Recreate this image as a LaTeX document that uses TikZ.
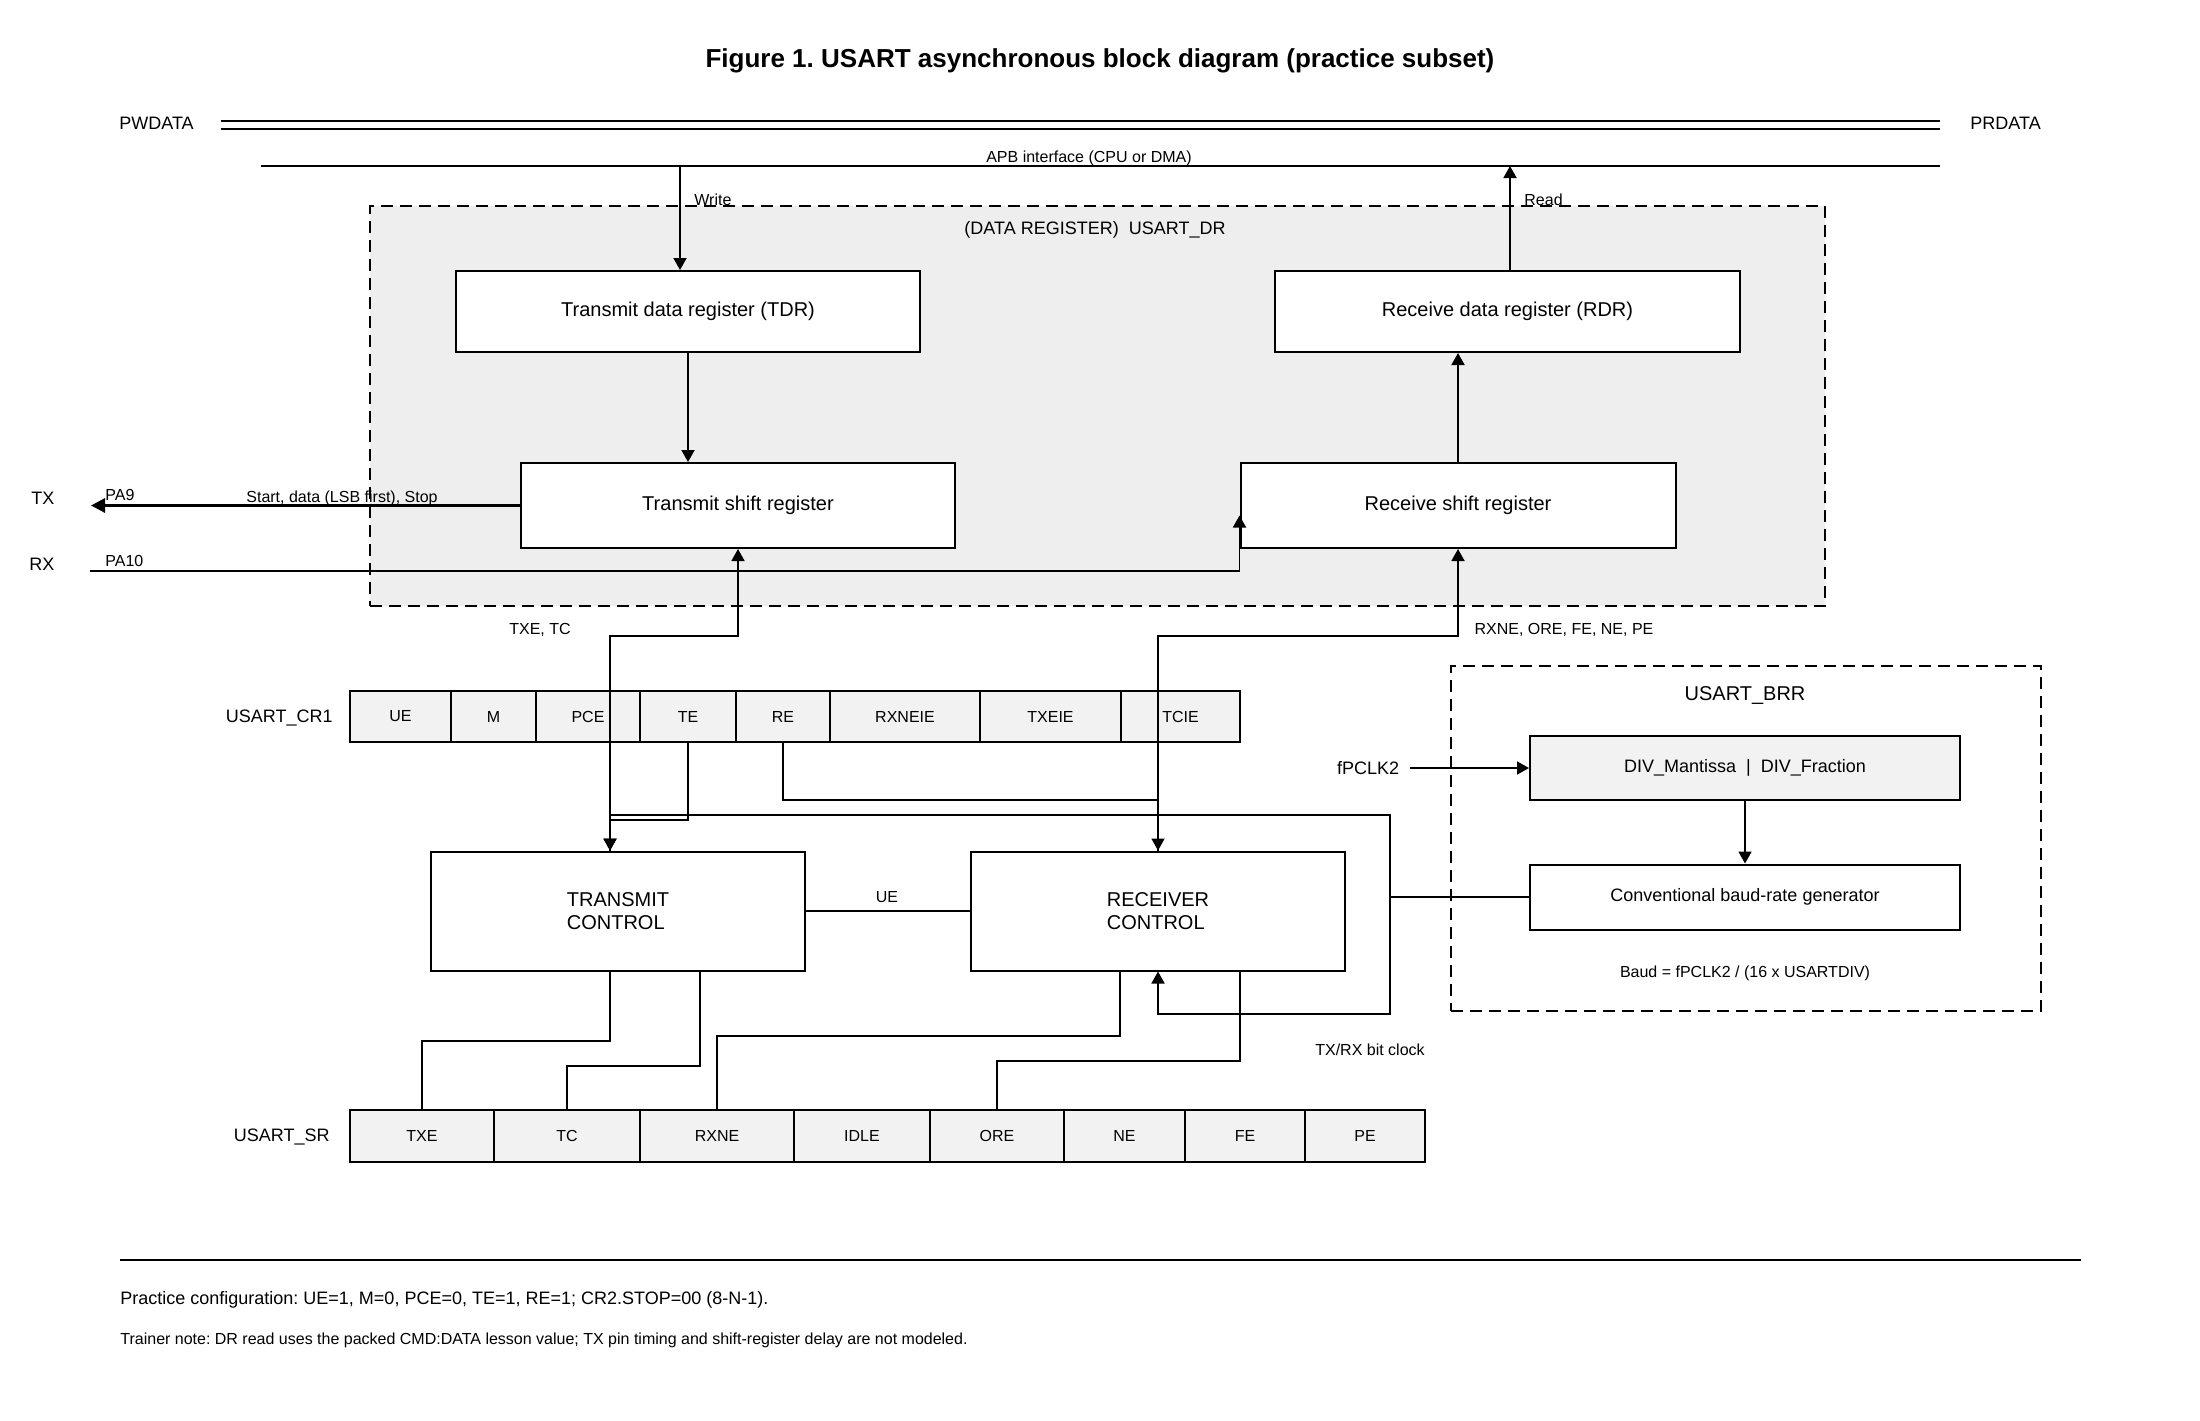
\documentclass[tikz,border=0pt]{standalone}
\usepackage{fontspec}
\setmainfont{Liberation Sans}
\usetikzlibrary{arrows.meta}
\definecolor{drgray}{HTML}{EEEEEE}
\definecolor{cellgray}{HTML}{F2F2F2}
\frenchspacing

\begin{document}
\begin{tikzpicture}[x=0.5pt,y=-0.5pt,
  blk/.style={draw, line width=1pt, fill=white, inner sep=0pt, align=center, font=\fontsize{10}{11.5}\selectfont},
  cell/.style={draw, line width=0.6pt, fill=cellgray, inner sep=0pt, font=\fontsize{8}{10}\selectfont},
  grp/.style={draw, line width=1pt, dash pattern=on 6pt off 3.5pt, inner sep=0pt},
  wire/.style={line width=0.9pt},
  arr/.style={wire, -{Triangle[length=6pt,width=6.5pt]}},
  lbl/.style={inner sep=0pt, font=\fontsize{8}{10}\selectfont},
  reg/.style={inner sep=0pt, font=\fontsize{9}{11}\selectfont}
]
\useasboundingbox (0,0) rectangle (2200,1420);

\node[font=\bfseries\fontsize{13}{15}\selectfont] (title) at (1100,61) {Figure 1. USART asynchronous block diagram (practice subset)};

% bus
\node[reg, anchor=west] (pw) at (119,123) {PWDATA};
\node[reg, anchor=west] (pr) at (1970,123) {PRDATA};
\draw[line width=1pt] (221,121) -- (1940,121) (221,129) -- (1940,129);
\draw[line width=1pt] (261,166) -- (1940,166);
\node[lbl] (apb) at (1089,158) {APB interface (CPU or DMA)};
\coordinate (wr) at (680,166);
\coordinate (rd) at (1510,166);

% data register
\node[grp, fill=drgray, minimum width=727.5pt, minimum height=200pt] (dr) at (1097.5,406) {};
\node[reg] (drl) at (1095,230) {(DATA REGISTER)\ \ USART\_DR};
\node[blk, minimum width=232pt, minimum height=40.5pt] (tdr) at (688,311.5) {Transmit data register (TDR)};
\node[blk, minimum width=232.5pt, minimum height=40.5pt] (rdr) at (1507.5,311.5) {Receive data register (RDR)};
\node[blk, minimum width=217pt, minimum height=42.5pt] (tsr) at (738,505.5) {Transmit shift register};
\node[blk, minimum width=217.5pt, minimum height=42.5pt] (rsr) at (1458,505.5) {Receive shift register};

\draw[arr] (wr) -- (tdr.north -| wr);
\node[lbl, anchor=west] (wrl) at (694,200) {Write};
\draw[arr] (rdr.north -| rd) -- (rd);
\node[lbl, anchor=west] (rdl) at (1524,200) {Read};
\draw[arr] (tdr.south) -- (tdr.south |- tsr.north);
\draw[arr] (rsr.north) -- (rsr.north |- rdr.south);

% pins
\coordinate (txpin) at (91,505.5);
\coordinate (rxpin) at (90,571);
\draw[line width=1.5pt, -{Triangle[length=7pt,width=7pt]}] (tsr.west) -- (txpin);
\draw[arr] (rxpin) -| ([yshift=-5pt]rsr.west);
\node[reg] (tx) at (43,498) {TX};
\node[reg] (rx) at (42,564) {RX};
\node[lbl, anchor=west] (pa9) at (105,495) {PA9};
\node[lbl, anchor=west] (pa10) at (105,561) {PA10};
\node[lbl, anchor=west] (frame) at (246,498) {Start, data (LSB first), Stop};

% control registers
\node[reg, anchor=east] (cr1) at (333,717.5) {USART\_CR1};
\foreach \nm/\xa/\xb in {UE/350/451, M/451/536, PCE/536/640, TE/640/736, RE/736/830, RXNEIE/830/980, TXEIE/980/1121, TCIE/1121/1240} {
  \node[cell, minimum width=(\xb-\xa)*0.5pt, minimum height=25.5pt] (cr-\nm) at ({(\xa+\xb)/2},716.5) {\nm};
}
\node[reg, anchor=east] (sr) at (330,1137) {USART\_SR};
\foreach \nm/\xa/\xb in {TXE/350/494, TC/494/640, RXNE/640/794, IDLE/794/930, ORE/930/1064, NE/1064/1185, FE/1185/1305, PE/1305/1425} {
  \node[cell, minimum width=(\xb-\xa)*0.5pt, minimum height=26pt] (sr-\nm) at ({(\xa+\xb)/2},1136) {\nm};
}

% control blocks
\node[blk, align=left, minimum width=187pt, minimum height=59.5pt] (tctl) at (618,911) {TRANSMIT\\CONTROL};
\node[blk, align=left, minimum width=187pt, minimum height=59.5pt] (rctl) at (1158,911) {RECEIVER\\CONTROL};
\draw[wire] (tctl.east) -- (rctl.west);
\node[lbl] (uel) at (887,897) {UE};

% baud rate register
\node[grp, minimum width=295pt, minimum height=172.5pt] (brr) at (1746,838.5) {};
\node[inner sep=0pt, font=\fontsize{10}{12}\selectfont] (brrl) at (1745,695) {USART\_BRR};
\node[blk, fill=cellgray, minimum width=215pt, minimum height=32pt, font=\fontsize{9}{11}\selectfont] (div) at (1745,768) {DIV\_Mantissa\ \ |\ \ DIV\_Fraction};
\node[blk, minimum width=215pt, minimum height=32.5pt, font=\fontsize{9}{11}\selectfont] (bgen) at (1745,897) {Conventional baud-rate generator};
\node[lbl] (baud) at (1745,973) {Baud = fPCLK2 / (16 x USARTDIV)};
\node[reg] (fpclk) at (1368,768) {fPCLK2};
\draw[arr] (fpclk.east) ++(5.5pt,0) -- (div.west);
\draw[arr] (div) -- (bgen);

% flags and enables
\coordinate (colTX) at (610,0);
\coordinate (colTC) at (700,0);
\coordinate (colRN) at (1120,0);
\coordinate (colOR) at (1240,0);
\coordinate (colCK) at (1390,0);
\coordinate (yTT) at (0,636);
\coordinate (yRE) at (0,800);
\coordinate (yCK) at (0,815);
\coordinate (yTE) at (0,820);
\coordinate (yCKb) at (0,1014);

\draw[arr] (tctl.north -| colTX) -- (colTX |- yTT) -| (tsr.south);
\node[lbl] (txfl) at (540,630) {TXE, TC};
\draw[arr] (rctl.north) -- (rctl.north |- yTT) -| (rsr.south);
\node[lbl] (rxfl) at (1564,630) {RXNE, ORE, FE, NE, PE};
\draw[arr] (cr-TE.south) |- (colTX |- yTE) -- (tctl.north -| colTX);
\draw[arr] (cr-RE.south) |- (rctl.north |- yRE) -- (rctl.north);

% bit clock
\draw[arr] (bgen.west) -| (colCK |- yCK) -| (tctl.north -| colTX);
\draw[arr] (colCK |- bgen.west) |- (rctl.south |- yCKb) -- (rctl.south);
\node[lbl] (ckl) at (1370,1050) {TX/RX bit clock};

\draw[wire] (tctl.south -| colTX) -- ++(0,69.5) -| (sr-TXE.north);
\draw[wire] (tctl.south -| colTC) -- ++(0,94.5) -| (sr-TC.north);
\draw[wire] (rctl.south -| colRN) -- ++(0,64.5) -| (sr-RXNE.north);
\draw[wire] (rctl.south -| colOR) -- ++(0,89.5) -| (sr-ORE.north);

% notes
\draw[line width=0.6pt] (120,1260) -- (2081,1260);
\node[reg, anchor=west] (cfg) at (120,1300) {Practice configuration: UE=1, M=0, PCE=0, TE=1, RE=1; CR2.STOP=00 (8-N-1).};
\node[lbl, anchor=west] (note) at (120,1340) {Trainer note: DR read uses the packed CMD:DATA lesson value; TX pin timing and shift-register delay are not modeled.};

\end{tikzpicture}
\end{document}
